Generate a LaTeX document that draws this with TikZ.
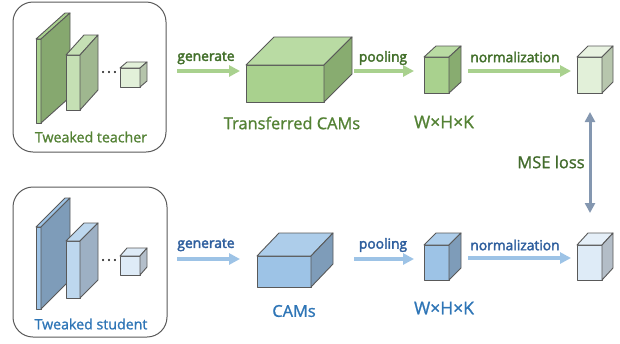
\documentclass[tikz,border=0pt]{standalone}
\usepackage{fontspec}
\setmainfont{Open Sans}
\newfontface\medface{Open Sans}[FakeBold=1.2]
\newfontface\semface{Open Sans}[FakeBold=2.6]
\usetikzlibrary{arrows.meta}

\definecolor{tgreen}{HTML}{548235}
\definecolor{tblue}{HTML}{2E75B6}
\definecolor{lgreen}{HTML}{426F2A}
\definecolor{lblue}{HTML}{2F5F9E}
\definecolor{agreen}{HTML}{A9D18E}
\definecolor{ablue}{HTML}{9DC3E6}
\definecolor{mse}{HTML}{8497B0}
\definecolor{msetext}{HTML}{426B2C}
\definecolor{edge}{HTML}{595959}

% cuboid: front top-left (x,y), width, height, depth dx, rise dy, front, top, side (hex)
\newcommand{\cuboid}[9]{%
  \definecolor{cubefront}{HTML}{#7}%
  \definecolor{cubetop}{HTML}{#8}%
  \definecolor{cubeside}{HTML}{#9}%
  \filldraw[cubeedge,fill=cubefront] (#1,#2) rectangle ++(#3,#4);
  \filldraw[cubeedge,fill=cubetop] (#1,#2) -- ++(#5,-#6) -- ++(#3,0) -- ++(-#5,#6) -- cycle;
  \filldraw[cubeedge,fill=cubeside] (#1,#2) ++(#3,0) -- ++(#5,-#6) -- ++(0,#4) -- ++(-#5,#6) -- cycle;
}
\newcommand{\sepdots}{\textperiodcentered\hspace{2.2pt}\textperiodcentered\hspace{2.2pt}\textperiodcentered}

\tikzset{
  cubeedge/.style={draw=edge,line width=0.9pt,line join=round},
  panel/.style={draw=edge,line width=1pt,rounded corners=20pt},
  flowg/.style={draw=agreen,line width=3.6pt,-{Triangle[length=11pt,width=11pt]}},
  flowb/.style={draw=ablue,line width=3.6pt,-{Triangle[length=11pt,width=11pt]}},
  msearrow/.style={draw=mse,line width=3pt,{Triangle[length=10pt,width=10pt]}-{Triangle[length=10pt,width=10pt]}},
  ellip/.style={text=black!75,font=\fontsize{14}{14}\semface,inner sep=0pt},
  lblg/.style={text=lgreen,font=\fontsize{13.8}{15}\semface,inner sep=0pt},
  lblb/.style={text=lblue,font=\fontsize{13.8}{15}\semface,inner sep=0pt},
  capg/.style={text=tgreen,font=\fontsize{16.4}{19}\medface,inner sep=0pt},
  capb/.style={text=tblue,font=\fontsize{16.4}{19}\medface,inner sep=0pt},
  dimg/.style={text=tgreen,font=\fontsize{17.5}{19}\medface,inner sep=0pt},
  dimb/.style={text=tblue,font=\fontsize{17.5}{19}\medface,inner sep=0pt},
  boxg/.style={text=tgreen,font=\fontsize{14.2}{16}\medface,inner sep=0pt},
  boxb/.style={text=tblue,font=\fontsize{14.2}{16}\medface,inner sep=0pt},
}

\begin{document}
\begin{tikzpicture}[x=1pt,y=-1pt]
\useasboundingbox (0,0) rectangle (620,343);

% ---------- teacher branch ----------
\draw[panel] (13,2) rectangle (166,152);
\cuboid{36}{39}{5}{84}{29}{26}{A9D18E}{A9D18E}{86A86F}
\cuboid{66}{55}{14}{55}{18}{20}{C5E0B4}{C5E0B4}{9FB78F}
\node[ellip] (tdots) at (109,74) {\sepdots};
\cuboid{120}{68}{20}{19}{7}{6}{E2F0D9}{E2F0D9}{B5C4AB}
\node[boxg] (tname) at (91,137) {Tweaked teacher};

\coordinate (tg1) at (177,71);
\coordinate (tg2) at (240,71);
\draw[flowg] (tg1) -- (tg2);
\node[lblg] (tgen) at (206,58) {generate};

\cuboid{246}{65}{78}{37}{28}{28}{A9D18E}{B9DBA3}{88AC70}
\node[capg] (tcams) at (292,123) {Transferred CAMs};

\coordinate (tp1) at (354,71);
\coordinate (tp2) at (414,71);
\draw[flowg] (tp1) -- (tp2);
\node[lblg] (tpool) at (383,58) {pooling};

\cuboid{424}{57}{25}{36}{12}{11}{A9D18E}{B9DBA3}{88AC70}
\node[dimg] (tdim) at (444,122) {W×H×K};

\coordinate (tn1) at (468,71);
\coordinate (tn2) at (571,71);
\draw[flowg] (tn1) -- (tn2);
\node[lblg] (tnorm) at (515,57) {normalization};

\cuboid{577}{57}{25}{36}{11}{11}{E2F0D9}{E8F2E1}{B7C6AD}

% ---------- loss ----------
\coordinate (m1) at (590,112);
\coordinate (m2) at (590,213);
\draw[msearrow] (m1) -- (m2);
\node[text=msetext,font=\fontsize{16.5}{18}\medface,inner sep=0pt] (mse) at (551,162) {MSE loss};

% ---------- student branch ----------
\draw[panel] (13,187) rectangle (167,337);
\cuboid{36}{227}{5}{82}{29}{29}{9DC3E6}{9DC3E6}{7E9CB9}
\cuboid{66}{241}{14}{57}{18}{18}{BDD7EE}{BDD7EE}{9DB0C4}
\node[ellip] (sdots) at (109,262) {\sepdots};
\cuboid{120}{256}{20}{19}{7}{8}{DEEBF7}{DEEBF7}{B3BECA}
\node[boxb] (sname) at (91,324) {Tweaked student};

\coordinate (sg1) at (177,259);
\coordinate (sg2) at (240,259);
\draw[flowb] (sg1) -- (sg2);
\node[lblb] (sgen) at (206,245) {generate};

\cuboid{257}{256}{54}{31}{22}{23}{9DC3E6}{ADCDEA}{7E9CB9}
\node[capb] (scams) at (294,311) {CAMs};

\coordinate (sp1) at (354,259);
\coordinate (sp2) at (414,259);
\draw[flowb] (sp1) -- (sp2);
\node[lblb] (spool) at (383,245) {pooling};

\cuboid{424}{245}{25}{35}{12}{12}{9DC3E6}{ADCDEA}{7E9CB9}
\node[dimb] (sdim) at (444,308) {W×H×K};

\coordinate (sn1) at (468,258);
\coordinate (sn2) at (571,258);
\draw[flowb] (sn1) -- (sn2);
\node[lblb] (snorm) at (515,245) {normalization};

\cuboid{577}{245}{25}{35}{11}{12}{DEEBF7}{E5EFF8}{B3BDC7}
\end{tikzpicture}
\end{document}
